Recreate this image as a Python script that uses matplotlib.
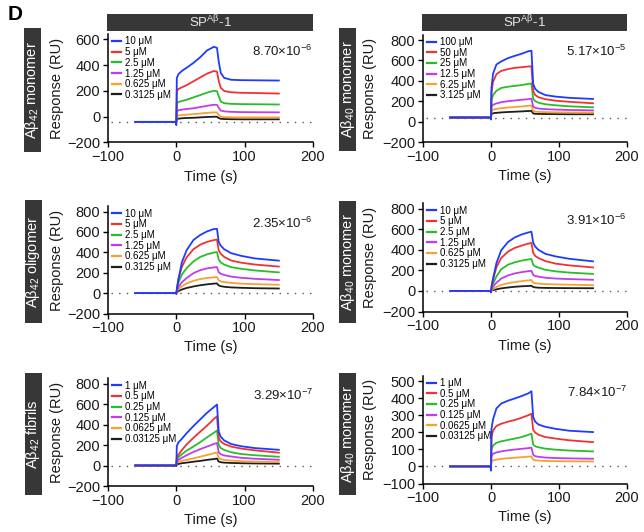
import matplotlib
matplotlib.use("Agg")
import matplotlib.pyplot as plt
from matplotlib.patches import Rectangle
from matplotlib.lines import Line2D

plt.rcParams['font.family'] = ['Liberation Sans', 'DejaVu Sans']
plt.rcParams['mathtext.fontset'] = 'custom'
plt.rcParams['mathtext.rm'] = 'Liberation Sans'
plt.rcParams['mathtext.it'] = 'Liberation Sans:italic'
plt.rcParams['mathtext.bf'] = 'Liberation Sans:bold'

# ---------------- data ----------------
time_s = [-60, -1, 0, 0.7, 3, 8, 15, 25, 35, 45, 55, 59.5, 62, 65, 70, 80, 95, 115, 150]

colors = ["#1e3cff", "#f03232", "#28be28", "#bf3cf0", "#f8a032", "#1e1e1e"]

conc_a = ["10 μM", "5 μM", "2.5 μM", "1.25 μM", "0.625 μM", "0.3125 μM"]
conc_b = ["100 μM", "50 μM", "25 μM", "12.5 μM", "6.25 μM", "3.125 μM"]
conc_c = ["1 μM", "0.5 μM", "0.25 μM", "0.125 μM", "0.0625 μM", "0.03125 μM"]

# Panel 1: Abeta42 monomer
p1_blue = [-40, -40, -65, 300, 330, 355, 380, 418, 462, 515, 543, 535, 430, 340, 302, 287, 284, 283, 281]
p1_red = [-40, -40, -40, 200, 215, 228, 245, 275, 305, 335, 355, 350, 280, 225, 200, 190, 186, 184, 180]
p1_green = [-40, -40, -40, 105, 115, 122, 132, 150, 168, 187, 202, 198, 160, 118, 105, 100, 98, 97, 95]
p1_purple = [-40, -40, -40, 40, 50, 55, 60, 66, 75, 85, 93, 92, 70, 48, 42, 38, 36, 35, 34]
p1_orange = [-40, -40, -40, 5, 10, 13, 16, 20, 25, 30, 34, 33, 15, 0, -3, -4, -5, -5, -5]
p1_black = [-40, -40, -40, -20, -15, -12, -10, -8, -5, -2, 0, 0, -10, -16, -18, -19, -20, -20, -20]

# Panel 2: Abeta40 monomer
p2_blue = [40, 40, 20, 330, 470, 560, 590, 622, 645, 665, 690, 695, 370, 320, 290, 260, 245, 233, 222]
p2_red = [40, 40, 40, 290, 390, 465, 497, 515, 527, 533, 540, 542, 300, 260, 238, 220, 205, 194, 180]
p2_green = [40, 40, 40, 210, 260, 302, 330, 342, 350, 358, 370, 374, 225, 200, 185, 170, 160, 150, 140]
p2_purple = [40, 40, 40, 145, 165, 178, 190, 200, 207, 214, 220, 225, 148, 135, 128, 122, 118, 114, 110]
p2_orange = [40, 40, 40, 100, 118, 125, 132, 138, 143, 148, 155, 157, 105, 98, 95, 93, 91, 90, 88]
p2_black = [40, 40, 40, 75, 82, 86, 90, 94, 97, 100, 104, 105, 80, 76, 75, 74, 73, 72, 72]

# Panel 3: Abeta42 oligomer
p3_blue = [0, 0, -10, 40, 130, 300, 420, 520, 570, 605, 628, 630, 500, 465, 430, 392, 365, 340, 318]
p3_red = [0, 0, 0, 30, 140, 255, 350, 430, 475, 502, 520, 525, 420, 385, 355, 320, 298, 280, 260]
p3_green = [0, 0, 0, 25, 100, 180, 245, 310, 355, 380, 398, 402, 330, 300, 280, 255, 238, 222, 203]
p3_purple = [0, 0, 0, 15, 60, 105, 148, 195, 225, 242, 252, 255, 205, 190, 178, 162, 150, 140, 128]
p3_orange = [0, 0, 0, 10, 40, 65, 95, 120, 138, 148, 155, 157, 125, 115, 108, 100, 93, 88, 82]
p3_black = [0, 0, 0, 5, 20, 35, 50, 65, 77, 86, 93, 95, 75, 68, 62, 56, 52, 48, 45]

# Panel 4: Abeta40 monomer
p4_blue = [0, 0, -15, 40, 120, 270, 395, 475, 520, 548, 568, 575, 470, 430, 398, 360, 335, 312, 287]
p4_red = [0, 0, 0, 30, 110, 230, 320, 382, 418, 440, 460, 466, 370, 340, 318, 290, 265, 248, 228]
p4_green = [0, 0, 0, 20, 70, 140, 210, 255, 278, 294, 305, 310, 255, 238, 225, 205, 190, 178, 165]
p4_purple = [0, 0, 0, 10, 40, 80, 120, 150, 170, 182, 192, 195, 155, 145, 138, 128, 120, 115, 108]
p4_orange = [0, 0, 0, 5, 18, 38, 58, 75, 85, 95, 102, 105, 80, 75, 70, 66, 63, 60, 56]
p4_black = [0, 0, 0, 2, 8, 15, 25, 33, 40, 45, 48, 50, 38, 34, 31, 29, 28, 27, 26]

# Panel 5: Abeta42 fibrils
p5_blue = [0, 0, -5, 190, 225, 260, 315, 385, 450, 515, 570, 595, 330, 280, 245, 210, 188, 170, 153]
p5_red = [0, 0, 0, 80, 105, 150, 205, 270, 330, 390, 455, 480, 270, 235, 210, 185, 165, 148, 125]
p5_green = [0, 0, 0, 60, 80, 110, 145, 185, 228, 275, 320, 342, 200, 170, 152, 130, 112, 100, 85]
p5_purple = [0, 0, 0, 40, 55, 75, 100, 132, 160, 185, 210, 220, 130, 110, 98, 88, 75, 66, 56]
p5_orange = [0, 0, 0, 25, 35, 45, 55, 70, 86, 102, 120, 128, 75, 62, 55, 48, 42, 38, 33]
p5_black = [0, 0, 0, 10, 15, 22, 28, 37, 45, 55, 63, 68, 38, 32, 28, 25, 22, 20, 18]

# Panel 6: Abeta40 monomer (lowest concentration not visible)
p6_blue = [0, 0, -25, 220, 275, 340, 368, 385, 398, 412, 428, 440, 290, 262, 245, 232, 220, 209, 201]
p6_red = [0, 0, 0, 170, 210, 237, 250, 262, 272, 285, 300, 308, 215, 198, 185, 172, 163, 153, 142]
p6_green = [0, 0, 0, 100, 122, 138, 147, 155, 163, 172, 185, 192, 128, 118, 112, 104, 98, 93, 88]
p6_purple = [0, 0, 0, 60, 74, 82, 88, 94, 99, 103, 107, 110, 68, 60, 56, 52, 49, 47, 45]
p6_orange = [0, 0, 0, 28, 35, 40, 44, 48, 51, 54, 57, 58, 40, 36, 34, 32, 31, 30, 29]
p6_black = None

side_labels = ["Aβ$_{\\mathregular{42}}$ monomer", "Aβ$_{\\mathregular{40}}$ monomer",
               "Aβ$_{\\mathregular{42}}$ oligomer", "Aβ$_{\\mathregular{40}}$ monomer",
               "Aβ$_{\\mathregular{42}}$ fibrils", "Aβ$_{\\mathregular{40}}$ monomer"]
kd_mant = ["8.70", "5.17", "2.35", "3.91", "3.29", "7.84"]
kd_exp = ["-6", "-5", "-6", "-6", "-7", "-7"]
header_text = "SP$^{\\mathregular{Aβ}}$-1"

x_ticks = [-100, 0, 100, 200]
yticks_a = [-200, 0, 200, 400, 600]
yticks_b = [-200, 0, 200, 400, 600, 800]
yticks_c = [-100, 0, 100, 200, 300, 400, 500]

panels = [
    dict(curves=[p1_blue, p1_red, p1_green, p1_purple, p1_orange, p1_black], labels=conc_a,
         yticks=yticks_a, ylim=(-200, 640), px=(108, 313, 34.3, 142.5), box=(24, 40.7, 28, 152), header=True),
    dict(curves=[p2_blue, p2_red, p2_green, p2_purple, p2_orange, p2_black], labels=conc_b,
         yticks=yticks_b, ylim=(-200, 850), px=(423, 627, 34.9, 142), box=(339.3, 356, 28, 150.7), header=True),
    dict(curves=[p3_blue, p3_red, p3_green, p3_purple, p3_orange, p3_black], labels=conc_a,
         yticks=yticks_b, ylim=(-200, 850), px=(108, 313, 206.4, 313.5), box=(25, 41.7, 200, 323), header=False),
    dict(curves=[p4_blue, p4_red, p4_green, p4_purple, p4_orange, p4_black], labels=conc_a,
         yticks=yticks_b, ylim=(-200, 850), px=(423, 627, 203.4, 311.5), box=(339.3, 356, 200.7, 323), header=False),
    dict(curves=[p5_blue, p5_red, p5_green, p5_purple, p5_orange, p5_black], labels=conc_c,
         yticks=yticks_b, ylim=(-200, 850), px=(108, 313, 378.4, 486), box=(25, 41.7, 372.7, 495), header=False),
    dict(curves=[p6_blue, p6_red, p6_green, p6_purple, p6_orange, p6_black], labels=conc_c,
         yticks=yticks_c, ylim=(-100, 530), px=(423, 627, 375.9, 483.5), box=(339.3, 356, 372.7, 495), header=False),
]

W, H = 644, 532
fig = plt.figure(figsize=(W / 100, H / 100), dpi=100)
DARK = "#373737"
TXT = "#1a1a1a"


def frac_rect(x0, x1, ytop, ybot):
    return [x0 / W, 1 - ybot / H, (x1 - x0) / W, (ybot - ytop) / H]


for i, p in enumerate(panels):
    x0, x1, yt, yb = p["px"]
    ax = fig.add_axes(frac_rect(x0, x1, yt, yb))
    base = p["curves"][0][0]
    ax.plot([-95, 200], [base, base], linestyle=(0, (1, 4.5)), color="#555555", lw=1.0,
            zorder=1, clip_on=False)
    for c, col in reversed(list(zip(p["curves"], colors))):
        if c is None:
            continue
        ax.plot(time_s, c, color=col, lw=1.3, zorder=2)
    ax.set_xlim(-100, 200)
    ax.set_ylim(*p["ylim"])
    ax.set_xticks(x_ticks)
    ax.set_yticks(p["yticks"])
    for s in ["top", "right"]:
        ax.spines[s].set_visible(False)
    for s in ["left", "bottom"]:
        ax.spines[s].set_linewidth(1.1)
    ax.tick_params(direction="out", length=3.5, width=1.0, labelsize=10.5, pad=2.0,
                   labelcolor=TXT)
    ax.set_xlabel("Time (s)", fontsize=10.5, color=TXT)
    ax.set_ylabel("Response (RU)", fontsize=10.5, color=TXT)
    ax.xaxis.set_label_coords(0.5, -0.25)
    ax.yaxis.set_label_coords(-0.215 if x0 < 300 else -0.225, 0.5)

    handles = [Line2D([], [], color=col, lw=1.6) for col in colors]
    ax.legend(handles, p["labels"], loc="upper left", bbox_to_anchor=(0.02, 0.98),
              frameon=False, fontsize=7.0, labelspacing=0.07, handlelength=0.95,
              handletextpad=0.35, borderpad=0.0, borderaxespad=0.0)

    ax.text(1.0, 0.845, kd_mant[i] + "×10$^{\\mathregular{" + kd_exp[i] + "}}$",
            transform=ax.transAxes, ha="right", va="center", fontsize=9.5, color=TXT)

    bx0, bx1, by0, by1 = p["box"]
    fig.patches.append(Rectangle((bx0 / W, 1 - by1 / H), (bx1 - bx0) / W, (by1 - by0) / H,
                                 transform=fig.transFigure, facecolor=DARK, edgecolor="none"))
    fig.text((bx0 + bx1) / 2 / W, 1 - (by0 + by1) / 2 / H, side_labels[i], rotation=90,
             ha="center", va="center", color="white", fontsize=10.5)

    if p["header"]:
        hx0 = x0 - 1
        fig.patches.append(Rectangle((hx0 / W, 1 - 30.7 / H), (x1 - hx0) / W, (30.7 - 14) / H,
                                     transform=fig.transFigure, facecolor=DARK, edgecolor="none"))
        fig.text((hx0 + x1) / 2 / W, 1 - 22.3 / H, header_text, ha="center", va="center",
                 color="#e8e8e8", fontsize=9.5)

fig.text(8 / W, 1 - 15 / H, "D", fontsize=15, fontweight="bold", ha="left", va="center")

fig.savefig("out.png", dpi=100)
